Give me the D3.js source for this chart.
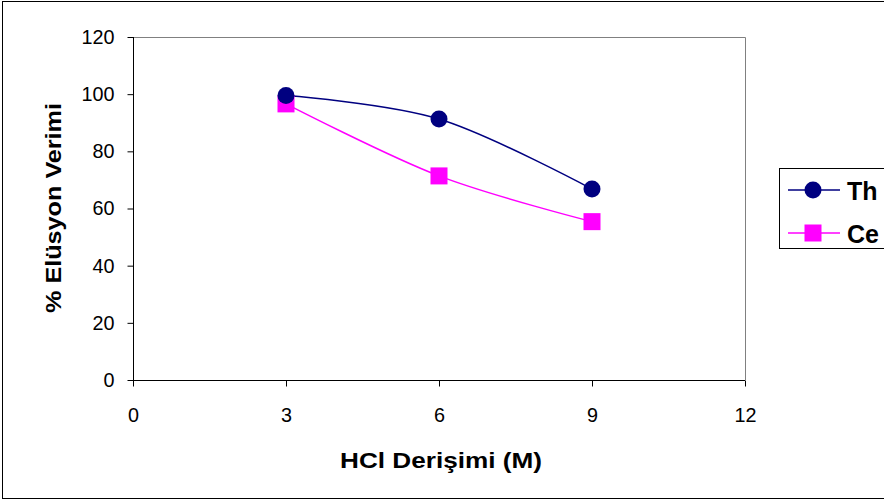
<!DOCTYPE html>
<html>
<head>
<meta charset="utf-8">
<script src="https://cdn.jsdelivr.net/npm/d3@7"></script>
<style>
  html, body { margin: 0; padding: 0; background: #fff; }
  svg { display: block; font-family: Arial, "Liberation Sans", sans-serif; }
</style>
</head>
<body>
<svg id="chart" width="884" height="503"></svg>
<script>
// HCl concentration (M) and elution yield (%) for each element
const hclConc = [3, 6, 9];
const thYield = [99.5, 91.3, 66.8];
const ceYield = [96.6, 71.4, 55.4];
const xTicks = [0, 3, 6, 9, 12];
const yTicks = [0, 20, 40, 60, 80, 100, 120];
const seriesNames = ["Th", "Ce"];

const svg = d3.select("#chart");
const plot = { left: 133, top: 37, right: 745, bottom: 380 };

const x = d3.scaleLinear().domain([0, 12]).range([plot.left, plot.right]);
const y = d3.scaleLinear().domain([0, 120]).range([plot.bottom, plot.top]);

// outer chart frame
svg.append("rect")
  .attr("x", 2.5).attr("y", 1.5).attr("width", 900).attr("height", 497)
  .attr("fill", "none").attr("stroke", "#000").attr("stroke-width", 1);

// plot frame: grey top/right edges
svg.append("path")
  .attr("d", `M${plot.left},${plot.top + 0.5}H${plot.right + 0.5}V${plot.bottom}`)
  .attr("fill", "none").attr("stroke", "#808080").attr("stroke-width", 1);

// axes
const yAxis = d3.axisLeft(y).tickValues(yTicks).tickSize(6).tickPadding(13);
const xAxis = d3.axisBottom(x).tickValues(xTicks).tickSize(6).tickPadding(21);

const gy = svg.append("g").attr("transform", `translate(${plot.left + 0.5},0)`).call(yAxis);
const gx = svg.append("g").attr("transform", `translate(0,${plot.bottom + 0.5})`).call(xAxis);
[gx, gy].forEach(g => {
  g.select(".domain").attr("stroke", "#000");
  g.selectAll(".tick line").attr("stroke", "#000");
  g.selectAll(".tick text").attr("fill", "#000").attr("font-size", 20)
    .attr("font-family", "Arial, 'Liberation Sans', sans-serif")
    .attr("textLength", function () { return this.textContent.length * 11; })
    .attr("lengthAdjust", "spacingAndGlyphs");
});
gy.select(".domain").attr("d", `M0,${plot.top}V${plot.bottom}`);
gx.select(".domain").attr("d", `M${plot.left},0H${plot.right}`);

// axis titles
svg.append("text")
  .attr("x", 441).attr("y", 468)
  .attr("text-anchor", "middle").attr("font-size", 22).attr("font-weight", "bold")
  .attr("textLength", 202).attr("lengthAdjust", "spacingAndGlyphs")
  .text("HCl Derişimi (M)");
svg.append("text")
  .attr("transform", `translate(61,208) rotate(-90)`)
  .attr("text-anchor", "middle").attr("font-size", 22).attr("font-weight", "bold")
  .attr("textLength", 210).attr("lengthAdjust", "spacingAndGlyphs")
  .text("% Elüsyon Verimi");

// series
const series = [
  { name: seriesNames[0], values: thYield, color: "#000080", shape: "circle" },
  { name: seriesNames[1], values: ceYield, color: "#FF00FF", shape: "square" }
];

const line = d3.line()
  .x(d => x(d[0])).y(d => y(d[1]))
  .curve(d3.curveCatmullRom.alpha(0));

function drawMarker(g, shape, color, cx, cy) {
  if (shape === "circle") {
    g.append("circle").attr("cx", cx).attr("cy", cy).attr("r", 8.5).attr("fill", color);
  } else {
    g.append("rect").attr("x", cx - 8.5).attr("y", cy - 8.5)
      .attr("width", 17).attr("height", 17).attr("fill", color);
  }
}

series.forEach(s => {
  const pts = hclConc.map((c, i) => [c, s.values[i]]);
  svg.append("path").datum(pts).attr("d", line)
    .attr("fill", "none").attr("stroke", s.color).attr("stroke-width", 1.5);
});
// markers on top, Th last
[series[1], series[0]].forEach(s => {
  const g = svg.append("g");
  hclConc.forEach((c, i) => drawMarker(g, s.shape, s.color, x(c), y(s.values[i])));
});

// legend
const leg = svg.append("g");
leg.append("rect").attr("x", 779.5).attr("y", 168.5).attr("width", 120).attr("height", 80)
  .attr("fill", "#fff").attr("stroke", "#000").attr("stroke-width", 1);
series.forEach((s, i) => {
  const ly = 190 + i * 43;
  leg.append("line").attr("x1", 788).attr("x2", 840).attr("y1", ly).attr("y2", ly)
    .attr("stroke", s.color).attr("stroke-width", 1.5);
  drawMarker(leg, s.shape, s.color, 813, ly);
  leg.append("text").attr("x", 847).attr("y", ly + 10)
    .attr("font-size", 25).attr("font-weight", "bold").text(s.name);
});
</script>
</body>
</html>
